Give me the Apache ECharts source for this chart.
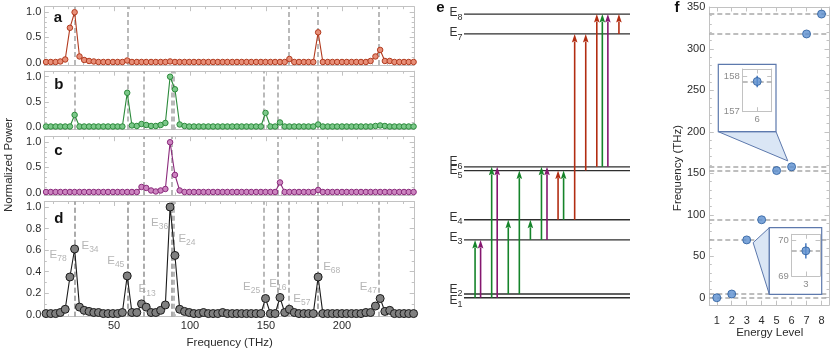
<!DOCTYPE html>
<html>
<head>
<meta charset="utf-8">
<script src="https://cdn.jsdelivr.net/npm/echarts@6/dist/echarts.min.js"></script>
<style>
html, body { margin: 0; padding: 0; background: #fff; }
#chart { width: 830px; height: 349px; }
</style>
</head>
<body>
<div id="chart"></div>
<script>
// ---------- data ----------
// frequency grid of the spectra (THz)
const freq = [
  5.3, 8.4, 11.6, 14.7, 17.9, 21.0, 24.1, 27.3, 30.4, 33.6,
  36.7, 39.8, 43.0, 46.1, 49.3, 52.4, 55.5, 58.7, 61.8, 65.0,
  68.1, 71.2, 74.4, 77.5, 80.7, 83.8, 86.9, 90.1, 93.2, 96.4,
  99.5, 102.6, 105.8, 108.9, 112.1, 115.2, 118.3, 121.5, 124.6, 127.8,
  130.9, 134.0, 137.2, 140.3, 143.5, 146.6, 149.7, 152.9, 156.0, 159.2,
  162.3, 165.4, 168.6, 171.7, 174.9, 178.0, 181.1, 184.3, 187.4, 190.6,
  193.7, 196.8, 200.0, 203.1, 206.3, 209.4, 212.5, 215.7, 218.8, 222.0,
  225.1, 228.2, 231.4, 234.5, 237.7, 240.8, 243.9, 247.1
];
// normalized power, panels a (red), b (green), c (purple), d (all)
const powerRed = [
  0.01, 0.01, 0.01, 0.02, 0.06, 0.69, 1.00, 0.12, 0.05, 0.03,
  0.02, 0.01, 0.01, 0.01, 0.01, 0.01, 0.01, 0.04, 0.01, 0.01,
  0.01, 0.01, 0.01, 0.01, 0.01, 0.01, 0.02, 0.01, 0.01, 0.01,
  0.01, 0.01, 0.01, 0.01, 0.01, 0.01, 0.01, 0.01, 0.01, 0.01,
  0.01, 0.01, 0.01, 0.01, 0.01, 0.01, 0.01, 0.01, 0.01, 0.01,
  0.01, 0.07, 0.01, 0.01, 0.01, 0.01, 0.01, 0.60, 0.01, 0.01,
  0.01, 0.01, 0.01, 0.01, 0.01, 0.01, 0.01, 0.01, 0.03, 0.12,
  0.25, 0.03, 0.03, 0.01, 0.01, 0.01, 0.01, 0.01
];
const powerGreen = [
  0.01, 0.01, 0.01, 0.01, 0.01, 0.01, 0.24, 0.01, 0.01, 0.01,
  0.01, 0.01, 0.01, 0.01, 0.01, 0.01, 0.01, 0.68, 0.03, 0.02,
  0.06, 0.04, 0.02, 0.02, 0.04, 0.08, 1.00, 0.75, 0.05, 0.02,
  0.01, 0.01, 0.01, 0.01, 0.01, 0.01, 0.01, 0.01, 0.01, 0.01,
  0.01, 0.01, 0.01, 0.01, 0.01, 0.01, 0.28, 0.01, 0.01, 0.09,
  0.01, 0.01, 0.01, 0.01, 0.01, 0.01, 0.01, 0.05, 0.01, 0.01,
  0.01, 0.01, 0.01, 0.01, 0.01, 0.01, 0.01, 0.01, 0.01, 0.02,
  0.03, 0.02, 0.01, 0.01, 0.01, 0.01, 0.01, 0.01
];
const powerPurple = [
  0.01, 0.01, 0.01, 0.01, 0.01, 0.01, 0.01, 0.01, 0.01, 0.01,
  0.01, 0.01, 0.01, 0.01, 0.01, 0.01, 0.01, 0.01, 0.01, 0.01,
  0.11, 0.09, 0.04, 0.02, 0.04, 0.07, 1.00, 0.35, 0.04, 0.01,
  0.01, 0.01, 0.01, 0.01, 0.01, 0.01, 0.01, 0.01, 0.01, 0.01,
  0.01, 0.01, 0.01, 0.01, 0.01, 0.01, 0.01, 0.01, 0.01, 0.20,
  0.01, 0.01, 0.01, 0.01, 0.01, 0.01, 0.01, 0.05, 0.01, 0.01,
  0.01, 0.01, 0.01, 0.01, 0.01, 0.01, 0.01, 0.01, 0.01, 0.01,
  0.01, 0.01, 0.01, 0.01, 0.01, 0.01, 0.01, 0.01
];
const powerAll = [
  0.01, 0.01, 0.01, 0.02, 0.05, 0.35, 0.61, 0.07, 0.04, 0.03,
  0.02, 0.02, 0.01, 0.01, 0.01, 0.01, 0.02, 0.36, 0.02, 0.02,
  0.10, 0.07, 0.02, 0.02, 0.04, 0.09, 1.00, 0.55, 0.05, 0.03,
  0.02, 0.01, 0.01, 0.02, 0.01, 0.01, 0.01, 0.02, 0.01, 0.01,
  0.01, 0.01, 0.01, 0.01, 0.01, 0.01, 0.15, 0.01, 0.01, 0.16,
  0.02, 0.05, 0.02, 0.01, 0.01, 0.01, 0.01, 0.35, 0.01, 0.01,
  0.01, 0.01, 0.01, 0.01, 0.01, 0.01, 0.01, 0.02, 0.02, 0.08,
  0.15, 0.03, 0.04, 0.01, 0.01, 0.01, 0.01, 0.01
];
// energy levels E1..E8 (THz) and their error bars (only shown in the insets)
const levelIndex = [1, 2, 3, 4, 5, 6, 7, 8];
const levels = [0, 4.5, 69.7, 94.0, 153.3, 157.85, 318.0, 342.0];
const levelErr = [null, null, 0.21, null, null, 0.16, null, null];
// transitions [lower, upper] seen in each colour
const redPairs = [[4, 5], [4, 7], [5, 7], [6, 8], [7, 8]];
const greenPairs = [[1, 3], [1, 6], [2, 4], [2, 5], [3, 4], [3, 6], [4, 5], [6, 8]];
const purplePairs = [[1, 3], [1, 6], [3, 6], [6, 8]];
// tick labels
const freqTicks = [50, 100, 150, 200];
const powerTicks = [0, 0.5, 1];
const powerTicksD = [0, 0.2, 0.4, 0.6, 0.8, 1];
const energyTicks = [0, 50, 100, 150, 200, 250, 300, 350];

// ---------- layout / style ----------
const FONT = '"Liberation Sans", Arial, sans-serif';
const frameColor = '#c2c2c2';
const labelColor = '#2b2b2b';
const dashColor = '#a9a9a9';
const panelStyle = [
  { line: '#b23a1e', fill: '#e88f78', edge: '#b23a1e', size: 5.5, pairs: redPairs, data: powerRed },
  { line: '#2b8a3a', fill: '#7cc88a', edge: '#2b8a3a', size: 5.5, pairs: greenPairs, data: powerGreen },
  { line: '#8b2a7c', fill: '#cc85c0', edge: '#8b2a7c', size: 5.5, pairs: purplePairs, data: powerPurple },
  { line: '#1a1a1a', fill: '#808080', edge: '#1a1a1a', size: 8, pairs: redPairs.concat(greenPairs, purplePairs), data: powerAll }
];
const arrowColors = ['#b22d12', '#15842a', '#85176f'];

const grids = [
  { left: 44.3, top: 6.7, width: 369.9, height: 58.3 },
  { left: 44.3, top: 71.2, width: 369.9, height: 58.3 },
  { left: 44.3, top: 136.7, width: 369.9, height: 58.3 },
  { left: 44.3, top: 201.5, width: 369.9, height: 115.2 },
  { left: 464, top: 7, width: 166, height: 298.2 },
  { left: 709.3, top: 7, width: 119.7, height: 298.2 },
  { left: 742.7, top: 69, width: 29, height: 42.7 },
  { left: 791.7, top: 234.3, width: 28.3, height: 41.7 }
];
const insets = [
  { box: { x: 718.3, y: 64.3, width: 57.7, height: 67.4 }, level: 5, edge: 'bottom', grid: 6, x: [5.5, 6.5], y: [157, 158.2] },
  { box: { x: 769.3, y: 227.7, width: 52.4, height: 66.6 }, level: 2, edge: 'left', grid: 7, x: [2.5, 3.5], y: [69, 70.16] }
];
// peak annotations in panel d: [subscript, freq, power, align]
const peakLabels = [
  ['78', 18.9, 0.545, 'right'], ['34', 28.6, 0.63, 'left'], ['45', 56.8, 0.49, 'right'],
  ['13', 66.2, 0.225, 'left'], ['36', 85.6, 0.845, 'right'], ['24', 92.4, 0.69, 'left'],
  ['25', 146.2, 0.245, 'right'], ['16', 152.2, 0.275, 'left'], ['57', 168, 0.135, 'left'],
  ['68', 187.6, 0.43, 'left'], ['47', 223, 0.245, 'right']
];
const levelNudge = [4, -3, -1, -1, 2, -3.5, 0.5, 0.5];

const steps = (a, b, s) => { const r = []; for (let v = a; v <= b + 1e-9; v += s) r.push(+v.toFixed(4)); return r; };
const transFreq = pairs => pairs.map(([i, j]) => +(levels[j - 1] - levels[i - 1]).toFixed(2));
const subE = s => '{e|E}{s|' + s + '}';
const richE = (color, big, small) => ({
  e: { fontSize: big, fontFamily: FONT, fill: color, color: color, lineHeight: big + 3, verticalAlign: 'top' },
  s: { fontSize: small, fontFamily: FONT, fill: color, color: color, lineHeight: small + 1, verticalAlign: 'bottom' }
});

// frame axes: labelled side + opposite side, each with major/minor inward ticks
const xAxes = [], yAxes = [];
function addAxes(list, dim, o) {
  const sides = dim === 'x' ? ['bottom', 'top'] : ['left', 'right'];
  const first = list.length;
  sides.forEach((position, s) => {
    const common = { type: 'value', gridIndex: o.grid, min: o.min, max: o.max, position: position,
      z: o.z || 0, silent: true, splitLine: { show: false } };
    list.push(Object.assign({}, common, {
      axisLine: { show: true, onZero: false, lineStyle: { color: frameColor, width: 1 } },
      axisTick: { show: o.majors.length > 0, inside: true, length: 4.5, customValues: o.majors, lineStyle: { color: frameColor } },
      axisLabel: (s === 0 && o.label) ? Object.assign({ show: true, customValues: o.majors, color: labelColor,
        fontFamily: FONT, fontSize: 11 }, o.label) : { show: false }
    }));
    if (o.minors && o.minors.length) {
      list.push(Object.assign({}, common, {
        axisLine: { show: false, onZero: false },
        axisTick: { show: true, inside: true, length: 2.5, customValues: o.minors, lineStyle: { color: frameColor } },
        axisLabel: { show: false }
      }));
    }
  });
  return first;
}

const series = [];
const px = [], py = [];
panelStyle.forEach((st, p) => {
  px[p] = addAxes(xAxes, 'x', { grid: p, min: 4.15, max: 247.5, majors: freqTicks, minors: steps(10, 240, 10),
    label: p === 3 ? { margin: 4 } : null });
  py[p] = addAxes(yAxes, 'y', { grid: p, min: p < 3 ? -0.05 : -0.019, max: p < 3 ? 1.11 : 1.051,
    majors: p < 3 ? powerTicks : powerTicksD, minors: steps(0, 1, 0.1),
    label: { margin: 3, formatter: v => v.toFixed(1) } });
  series.push({
    type: 'line', xAxisIndex: px[p], yAxisIndex: py[p], z: 3, clip: false,
    data: freq.map((f, i) => [f, st.data[i]]),
    symbol: 'circle', symbolSize: st.size, showSymbol: true,
    lineStyle: { color: st.line, width: 1.1 },
    itemStyle: { color: st.fill, borderColor: st.edge, borderWidth: 1 },
    markLine: {
      silent: true, symbol: 'none', z: 1, animation: false, label: { show: false },
      lineStyle: { type: [5, 3], color: dashColor, width: 1.6 },
      data: transFreq(st.pairs).map(v => ({ xAxis: v }))
    }
  });
});

// panel d peak labels
series.push({
  type: 'custom', coordinateSystem: 'cartesian2d', xAxisIndex: px[3], yAxisIndex: py[3], z: 4, silent: true,
  data: peakLabels.map(l => [l[1], l[2]]),
  renderItem: (params, api) => {
    const pt = api.coord([api.value(0), api.value(1)]);
    const l = peakLabels[params.dataIndex];
    return { type: 'text', x: pt[0], y: pt[1],
      style: { text: subE(l[0]), rich: richE('#b5b5b5', 11.5, 8.5), align: l[3], verticalAlign: 'middle' } };
  }
});

// panel e: level diagram
const ex = xAxes.push({ type: 'value', gridIndex: 4, min: 0, max: 30, show: false }) - 1;
const ey = yAxes.push({ type: 'value', gridIndex: 4, min: -9, max: 350.5, show: false }) - 1;
series.push({
  type: 'custom', coordinateSystem: 'cartesian2d', xAxisIndex: ex, yAxisIndex: ey, z: 2, silent: true,
  data: levels.map((E, i) => [i, E]),
  renderItem: (params, api) => {
    const i = params.dataIndex;
    const a = api.coord([0, api.value(1)]), b = api.coord([30, api.value(1)]);
    return { type: 'group', children: [
      { type: 'line', shape: { x1: a[0], y1: a[1], x2: b[0], y2: b[1] }, style: { stroke: '#2e2e2e', lineWidth: 1.3 } },
      { type: 'text', x: a[0] - 1.5, y: a[1] + levelNudge[i],
        style: { text: subE(i + 1), rich: richE('#333', 12, 9), align: 'right', verticalAlign: 'middle' } }
    ] };
  }
});
const transitions = [];
[redPairs, greenPairs, purplePairs].forEach((pairs, c) => pairs.forEach(([i, j]) => transitions.push([i, j, c])));
transitions.sort((a, b) => a[0] - b[0] || a[1] - b[1] || a[2] - b[2]);
let slot = 0, prev = null;
const arrowData = transitions.map(t => {
  slot += (prev && prev[0] === t[0] && prev[1] === t[1]) ? 1 : 2;
  prev = t;
  return [slot, levels[t[0] - 1], levels[t[1] - 1], t[2]];
});
series.push({
  type: 'custom', coordinateSystem: 'cartesian2d', xAxisIndex: ex, yAxisIndex: ey, z: 3, silent: true,
  data: arrowData,
  renderItem: (params, api) => {
    const p0 = api.coord([api.value(0), api.value(1)]);
    const p1 = api.coord([api.value(0), api.value(2)]);
    const col = arrowColors[api.value(3)];
    const h = 8.5, w = 2.8;
    return { type: 'group', children: [
      { type: 'line', shape: { x1: p0[0], y1: p0[1], x2: p1[0], y2: p1[1] + h - 1 }, style: { stroke: col, lineWidth: 1.6 } },
      { type: 'polygon', shape: { points: [[p1[0], p1[1]], [p1[0] - w, p1[1] + h], [p1[0], p1[1] + h - 1.5], [p1[0] + w, p1[1] + h]] },
        style: { fill: col } }
    ] };
  }
});

// panel f: level frequencies
const fx = addAxes(xAxes, 'x', { grid: 5, min: 0.5, max: 8.5, majors: levelIndex, minors: [], label: { margin: 10 } });
const fy = addAxes(yAxes, 'y', { grid: 5, min: -9, max: 350.5, majors: energyTicks, minors: steps(0, 350, 10), label: { margin: 4 } });
const pointStyle = { color: '#5b8ed0', borderColor: '#2c5e9e', borderWidth: 1 };
series.push({
  type: 'scatter', xAxisIndex: fx, yAxisIndex: fy, z: 6, symbolSize: 8, silent: true,
  data: levelIndex.map((n, i) => [n, levels[i]]),
  itemStyle: pointStyle,
  markLine: {
    silent: true, symbol: 'none', z: 1, label: { show: false },
    lineStyle: { type: [5, 3], color: dashColor, width: 1.6 },
    data: levels.map(v => ({ yAxis: v }))
  }
});

// insets
insets.forEach(ins => {
  const lab = { color: '#8c8c8c', fontSize: 9.5, margin: 3 };
  const ix = addAxes(xAxes, 'x', { grid: ins.grid, min: ins.x[0], max: ins.x[1], majors: [levelIndex[ins.level]], minors: [], label: lab, z: 20 });
  const iy = addAxes(yAxes, 'y', { grid: ins.grid, min: ins.y[0], max: ins.y[1],
    majors: [ins.y[0], Math.floor(ins.y[1])], minors: [], label: lab, z: 20 });
  const pt = [levelIndex[ins.level], levels[ins.level], levelErr[ins.level]];
  series.push({
    type: 'custom', coordinateSystem: 'cartesian2d', xAxisIndex: ix, yAxisIndex: iy, z: 21, silent: true,
    data: [pt],
    renderItem: (params, api) => {
      const a = api.coord([api.value(0), api.value(1) - api.value(2)]);
      const b = api.coord([api.value(0), api.value(1) + api.value(2)]);
      return { type: 'line', shape: { x1: a[0], y1: a[1], x2: b[0], y2: b[1] }, style: { stroke: '#4a7cc0', lineWidth: 1.5 } };
    }
  });
  series.push({
    type: 'scatter', xAxisIndex: ix, yAxisIndex: iy, z: 22, symbolSize: 8, silent: true,
    data: [[pt[0], pt[1]]], itemStyle: pointStyle,
    markLine: {
      silent: true, symbol: 'none', z: 21, label: { show: false },
      lineStyle: { type: [5, 3], color: dashColor, width: 1.6 },
      data: [{ yAxis: pt[1] }]
    }
  });
});

const chart = echarts.init(document.getElementById('chart'), null, { renderer: 'canvas' });
chart.setOption({
  animation: false,
  backgroundColor: '#fff',
  textStyle: { fontFamily: FONT },
  grid: grids.map(g => Object.assign({ containLabel: false, outerBoundsMode: 'none' }, g)),
  xAxis: xAxes,
  yAxis: yAxes,
  series: series
});

// callout boxes and titles
const gfx = [];
insets.forEach(ins => {
  const b = ins.box;
  const p = chart.convertToPixel({ xAxisIndex: fx, yAxisIndex: fy }, [levelIndex[ins.level], levels[ins.level]]);
  const cx = b.x + b.width / 2, cy = b.y + b.height / 2;
  const d = Math.hypot(cx - p[0], cy - p[1]);
  const tip = [p[0] + (cx - p[0]) / d * 7, p[1] + (cy - p[1]) / d * 7];
  const base = ins.edge === 'bottom'
    ? [[b.x, b.y + b.height], [b.x + b.width, b.y + b.height]]
    : [[b.x, b.y], [b.x, b.y + b.height]];
  gfx.push({ type: 'polygon', z: 10, silent: true, shape: { points: [base[0], base[1], tip] },
    style: { fill: '#dae6f5', stroke: '#5d79ad', lineWidth: 1 } });
  gfx.push({ type: 'rect', z: 11, silent: true, shape: { x: b.x, y: b.y, width: b.width, height: b.height },
    style: { fill: '#fff', stroke: '#5d79ad', lineWidth: 1.2 } });
});
const txt = (text, x, y, opt) => gfx.push(Object.assign({ type: 'text', x: x, y: y, z: 30, silent: true,
  style: Object.assign({ text: text, fontFamily: FONT, fontSize: 11.5, fill: '#2b2b2b', align: 'center', verticalAlign: 'middle' }, opt && opt.style) },
  opt && opt.rotation ? { rotation: opt.rotation } : {}));
txt('Normalized Power', 8.5, 165, { rotation: Math.PI / 2 });
txt('Frequency (THz)', 229.7, 343.3);
txt('Frequency (THz)', 678.3, 168, { rotation: Math.PI / 2 });
txt('Energy Level', 769.7, 333.3);
const bold = { style: { fontSize: 15, fontWeight: 'bold', fill: '#111' } };
txt('a', 58, 18.3, bold);
txt('b', 58.8, 85, bold);
txt('c', 58.5, 151.3, bold);
txt('d', 58.8, 218.7, bold);
txt('e', 440.5, 7.5, bold);
txt('f', 677, 8, bold);
chart.setOption({ graphic: gfx });
</script>
</body>
</html>
